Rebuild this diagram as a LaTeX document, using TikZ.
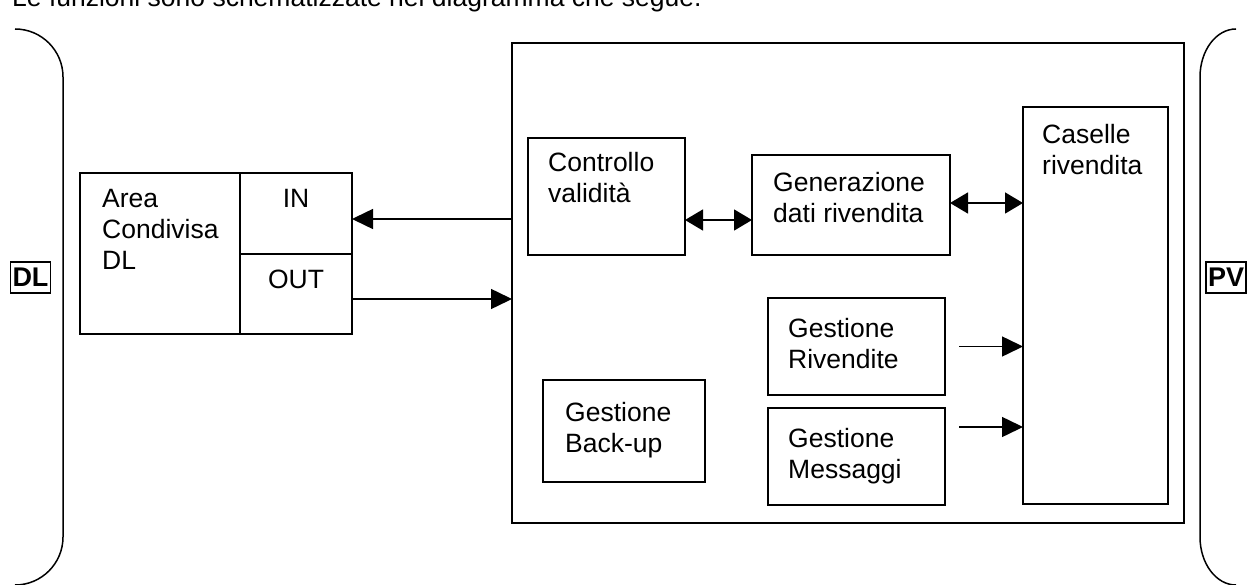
\documentclass[tikz,border=0pt]{standalone}
\usepackage{fontspec}
\setmainfont{Liberation Sans}
\usetikzlibrary{arrows.meta}
\begin{document}
\begin{tikzpicture}[x=1pt,y=-1pt,
  box/.style={draw, line width=1.5pt, inner sep=0pt, outer sep=0pt, anchor=north west},
  txt/.style={anchor=north west, inner sep=0pt, align=left, font=\fontsize{26.5}{31}\selectfont},
  ctxt/.style={anchor=north, inner sep=0pt, font=\fontsize{26.5}{31}\selectfont},
  arr/.style={line width=1.5pt, -{Triangle[length=21pt,width=20pt]}},
  darr/.style={line width=1.5pt, {Triangle[length=18pt,width=21pt]}-{Triangle[length=18pt,width=21pt]}},
  tag/.style={draw, line width=1.5pt, inner xsep=2pt, inner ysep=0pt, outer sep=0pt,
    minimum height=31pt, font=\bfseries\fontsize{27}{31}\selectfont},
  brace/.style={line width=1.5pt}]
\useasboundingbox (0,0) rectangle (1249,585);

% intro text (clipped at the top)
\node[anchor=base west, inner sep=0pt, font=\fontsize{26.5}{31}\selectfont] (intro) at (12,7)
  {Le funzioni sono schematizzate nel diagramma che segue.};

% side brackets
\draw[brace] (15,29) .. controls (41.5,29) and (63,50.5) .. (63,77) -- (63,537)
  .. controls (63,563.5) and (41.5,585) .. (15,585);
\draw[brace] (1236,29) .. controls (1216.1,29) and (1200,50.5) .. (1200,77) -- (1200,537)
  .. controls (1200,563.5) and (1216.1,585) .. (1236,585);

\node[tag] (dl) at (30.5,277.5) {DL};
\node[tag] (pv) at (1226,277.5) {PV};

% shared area
\node[box, minimum width=160pt, minimum height=161pt] (area) at (80,173) {};
\node[box, minimum width=112pt, minimum height=81pt] (in) at (240,173) {};
\node[box, minimum width=112pt, minimum height=80pt] (out) at (240,254) {};
\node[txt] (areat) at (102,189) {Area\\Condivisa\\DL};
\node[ctxt] (int) at (296,189) {IN};
\node[ctxt] (outt) at (296,270) {OUT};

% main box
\node[box, minimum width=672pt, minimum height=480pt] (main) at (512,43) {};
\node[box, minimum width=157pt, minimum height=117pt] (ctrl) at (528,138) {};
\node[box, minimum width=198pt, minimum height=100pt] (gen) at (752,155) {};
\node[box, minimum width=145pt, minimum height=397pt] (cas) at (1023,107) {};
\node[box, minimum width=177pt, minimum height=97pt] (gr) at (768,298) {};
\node[box, minimum width=177pt, minimum height=97pt] (gm) at (768,408) {};
\node[box, minimum width=162pt, minimum height=102pt] (gb) at (543,380) {};

\node[txt] (ctrlt) at (548,152) {Controllo\\validità};
\node[txt] (gent) at (773,172) {Generazione\\dati rivendita};
\node[txt] (cast) at (1042,124) {Caselle\\rivendita};
\node[txt] (grt) at (788,318) {Gestione\\Rivendite};
\node[txt] (gmt) at (788,428) {Gestione\\Messaggi};
\node[txt] (gbt) at (565,402) {Gestione\\Back-up};

% connectors
\coordinate (yin) at (0,219);
\coordinate (yout) at (0,299);
\coordinate (ycg) at (0,220);
\coordinate (ygc) at (0,203);
\coordinate (ygm) at (0,427);
\draw[arr] (main.west |- yin) -- (in.east |- yin);
\draw[arr] (out.east |- yout) -- (main.west |- yout);
\draw[darr] (ctrl.east |- ycg) -- (gen.west |- ycg);
\draw[darr] (gen.east |- ygc) -- (cas.west |- ygc);
\coordinate (gro) at ([xshift=14pt]gr.east);
\coordinate (gmo) at ([xshift=14pt]gm.east);
\draw[arr] (gro) -- (cas.west |- gro);
\draw[arr] (gmo |- ygm) -- (cas.west |- ygm);
\end{tikzpicture}
\end{document}
